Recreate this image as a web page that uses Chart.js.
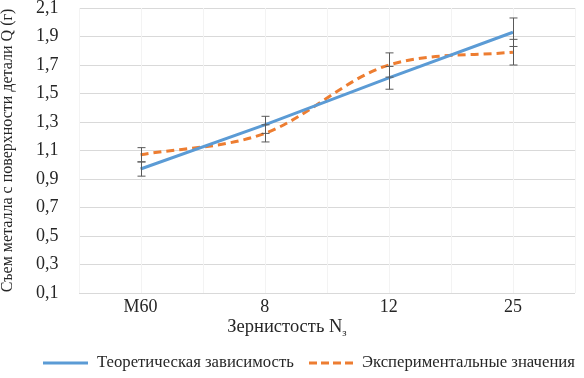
<!DOCTYPE html>
<html>
<head>
<meta charset="utf-8">
<script src="https://cdn.jsdelivr.net/npm/chart.js@4.4.1/dist/chart.umd.min.js"></script>
<style>
  html, body { margin: 0; padding: 0; background: #fff; }
  #wrap { width: 584px; height: 378px; }
</style>
</head>
<body>
<div id="wrap"><canvas id="chart" width="584" height="378"></canvas></div>
<script>
// Данные графика
var categories = ['М60', '8', '12', '25'];
var theoryValues = [0.97, 1.28, 1.61, 1.93];
var theoryErrors = [0.05, 0.06, 0.08, 0.10];
var expValues = [1.07, 1.22, 1.70, 1.79];
var expErrors = [0.05, 0.06, 0.085, 0.09];
var theoryLabel = 'Теоретическая зависимость';
var expLabel = 'Экспериментальные значения';

var FONT = '"Liberation Serif", "Times New Roman", serif';

// Усы погрешностей
var errorBarsPlugin = {
    id: 'errorBars',
    afterDatasetsDraw: function (chart) {
        var ctx = chart.ctx;
        var x = chart.scales.x, y = chart.scales.y;
        var sets = [[theoryValues, theoryErrors], [expValues, expErrors]];
        ctx.save();
        ctx.strokeStyle = '#595959';
        ctx.lineWidth = 1;
        sets.forEach(function (s) {
            s[0].forEach(function (v, i) {
                var px = Math.round(x.getPixelForValue(i)) + 0.5;
                var top = y.getPixelForValue(v + s[1][i]);
                var bot = y.getPixelForValue(v - s[1][i]);
                ctx.beginPath();
                ctx.moveTo(px, top); ctx.lineTo(px, bot);
                ctx.moveTo(px - 4, top); ctx.lineTo(px + 4, top);
                ctx.moveTo(px - 4, bot); ctx.lineTo(px + 4, bot);
                ctx.stroke();
            });
        });
        ctx.restore();
    }
};

// Подписи категорий, подпись оси X и легенда
var extrasPlugin = {
    id: 'extras',
    beforeDatasetsDraw: function (chart) {
        var ctx = chart.ctx, a = chart.chartArea, x = chart.scales.x;
        ctx.save();
        ctx.strokeStyle = '#f3f3f3';
        ctx.lineWidth = 1;
        for (var i = -0.5; i <= categories.length - 0.5; i += 0.5) {
            var px = Math.round(x.getPixelForValue(i)) + 0.5;
            ctx.beginPath(); ctx.moveTo(px, a.top); ctx.lineTo(px, a.bottom); ctx.stroke();
        }
        ctx.restore();
    },
    afterDraw: function (chart) {
        var ctx = chart.ctx, a = chart.chartArea, x = chart.scales.x;
        ctx.save();
        ctx.fillStyle = '#262626';
        ctx.textBaseline = 'middle';
        // категории
        ctx.font = '18px ' + FONT;
        ctx.textAlign = 'center';
        categories.forEach(function (c, i) {
            ctx.fillText(c, x.getPixelForValue(i), a.bottom + 14);
        });
        // подпись оси X
        ctx.font = '18.5px ' + FONT;
        var t1 = 'Зернистость N';
        var w1 = ctx.measureText(t1).width;
        ctx.font = '11px ' + FONT;
        var w2 = ctx.measureText('з').width;
        var sx = 287 - (w1 + w2) / 2;
        ctx.font = '18.5px ' + FONT;
        ctx.textAlign = 'left';
        ctx.fillText(t1, sx, 327);
        ctx.font = '11px ' + FONT;
        ctx.fillText('з', sx + w1, 333);
        // легенда
        ctx.font = '16.7px ' + FONT;
        ctx.lineWidth = 3;
        ctx.strokeStyle = '#5b9bd5';
        ctx.beginPath(); ctx.moveTo(43, 363); ctx.lineTo(88, 363); ctx.stroke();
        ctx.fillText(theoryLabel, 97, 363);
        ctx.strokeStyle = '#ed7d31';
        ctx.setLineDash([8, 4]);
        ctx.beginPath(); ctx.moveTo(309, 363); ctx.lineTo(353, 363); ctx.stroke();
        ctx.setLineDash([]);
        ctx.fillText(expLabel, 362, 363);
        ctx.restore();
    }
};

new Chart(document.getElementById('chart').getContext('2d'), {
    type: 'line',
    data: {
        labels: categories,
        datasets: [{
            label: theoryLabel,
            data: theoryValues,
            borderColor: '#5b9bd5',
            borderWidth: 3,
            pointRadius: 0,
            tension: 0
        }, {
            label: expLabel,
            data: expValues,
            borderColor: '#ed7d31',
            borderWidth: 3,
            borderDash: [8, 5],
            pointRadius: 0,
            cubicInterpolationMode: 'monotone'
        }]
    },
    options: {
        responsive: false,
        animation: false,
        layout: { padding: { top: 0, right: 9, bottom: 77, left: 0 } },
        plugins: {
            legend: { display: false },
            tooltip: { enabled: false }
        },
        scales: {
            x: {
                offset: true,
                grid: { display: false },
                border: { display: false },
                ticks: { display: false }
            },
            y: {
                min: 0.1,
                max: 2.1,
                grid: { color: '#d9d9d9', drawTicks: false },
                border: { display: false },
                afterFit: function (s) { s.paddingTop = 8; s.paddingBottom = 8; },
                ticks: {
                    stepSize: 0.2,
                    padding: 20,
                    color: '#262626',
                    font: { family: FONT, size: 18 },
                    callback: function (v) { return v.toFixed(1).replace('.', ','); }
                },
                title: {
                    display: true,
                    text: 'Съем металла с поверхности детали Q (г)',
                    color: '#262626',
                    font: { family: FONT, size: 16, lineHeight: 1 },
                    padding: { top: 0, bottom: 0 }
                }
            }
        }
    },
    plugins: [errorBarsPlugin, extrasPlugin]
});
</script>
</body>
</html>
